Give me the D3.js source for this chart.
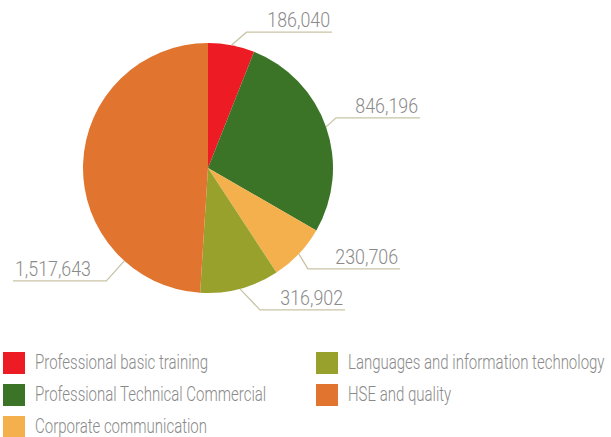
<!DOCTYPE html>
<html>
<head>
<meta charset="utf-8">
<script src="https://cdn.jsdelivr.net/npm/d3@7"></script>
<style>
  body { margin: 0; background: #fff; }
  svg text { font-family: Roboto, "Liberation Sans", sans-serif; font-weight: 300; fill: #8a8a8a; }
</style>
</head>
<body>
<svg id="chart" width="611" height="437"></svg>
<script>
const categories = [
  'Professional basic training',
  'Professional Technical Commercial',
  'Corporate communication',
  'Languages and information technology',
  'HSE and quality'
];
const values = [186040, 846196, 230706, 316902, 1517643];
const colors = ['#ed1c24', '#3b7427', '#f4b04c', '#97a12c', '#e1742e'];

// label layout: optional anchor angle override (deg), elbow offset, horizontal end x
const labelLayout = [
  { angle: null, dx: 15, dy: -13, endX: 332 },
  { angle: null, dx: 10, dy: -9, endX: 420 },
  { angle: null, dx: 9, dy: 15, endX: 400 },
  { angle: null, dx: 20, dy: 21, endX: 345 },
  { angle: 222, dx: -18, dy: 20, endX: 13 }
];

const data = categories.map((c, i) => ({ name: c, value: values[i], color: colors[i], layout: labelLayout[i] }));

const svg = d3.select('#chart');
const cx = 208, cy = 168, radius = 125;
const squeeze = 0.75;      // condensed look for legend
const squeezeNum = 0.89;   // numbers a bit wider

const pie = d3.pie().sort(null).value(d => d.value);
const arc = d3.arc().innerRadius(0).outerRadius(radius);
const arcs = pie(data);

const g = svg.append('g').attr('transform', `translate(${cx},${cy})`);

g.selectAll('path.slice')
  .data(arcs)
  .join('path')
  .attr('class', 'slice')
  .attr('d', arc)
  .attr('fill', d => d.data.color);

// leader lines + value labels
const fmt = d3.format(',');
const labels = g.selectAll('g.label')
  .data(arcs)
  .join('g')
  .attr('class', 'label');

const pts = d => {
  const L = d.data.layout;
  const a = L.angle !== null ? L.angle * Math.PI / 180 : (d.startAngle + d.endAngle) / 2;
  const x0 = radius * Math.sin(a), y0 = -radius * Math.cos(a);
  const x1 = x0 + L.dx, y1 = y0 + L.dy;
  return [[x0, y0], [x1, y1], [L.endX - cx, y1]];
};

labels.append('path')
  .attr('d', d => d3.line()(pts(d)))
  .attr('fill', 'none')
  .attr('stroke', '#c9c4a6')
  .attr('stroke-width', 1.3);

labels.append('text')
  .attr('transform', d => {
    const p = pts(d);
    const x = p[2][0] < p[1][0] ? p[2][0] + 2 : p[2][0] - 2;
    return `translate(${x},${p[1][1] - 5}) scale(${squeezeNum},1)`;
  })
  .attr('text-anchor', d => {
    const p = pts(d);
    return p[2][0] < p[1][0] ? 'start' : 'end';
  })
  .style('font-size', '20px')
  .text(d => fmt(d.data.value));

// legend
const legend = svg.append('g').attr('class', 'legend');
const legItems = legend.selectAll('g.item')
  .data(data)
  .join('g')
  .attr('class', 'item')
  .attr('transform', (d, i) => {
    const col = i < 3 ? 0 : 1;
    const row = i < 3 ? i : i - 3;
    return `translate(${3 + col * 313},${352 + row * 32})`;
  });

legItems.append('rect')
  .attr('width', 22)
  .attr('height', 22)
  .attr('fill', d => d.color);

legItems.append('text')
  .attr('transform', `translate(32,17) scale(${squeeze},1)`)
  .style('font-size', '20px')
  .text(d => d.name);
</script>
</body>
</html>
